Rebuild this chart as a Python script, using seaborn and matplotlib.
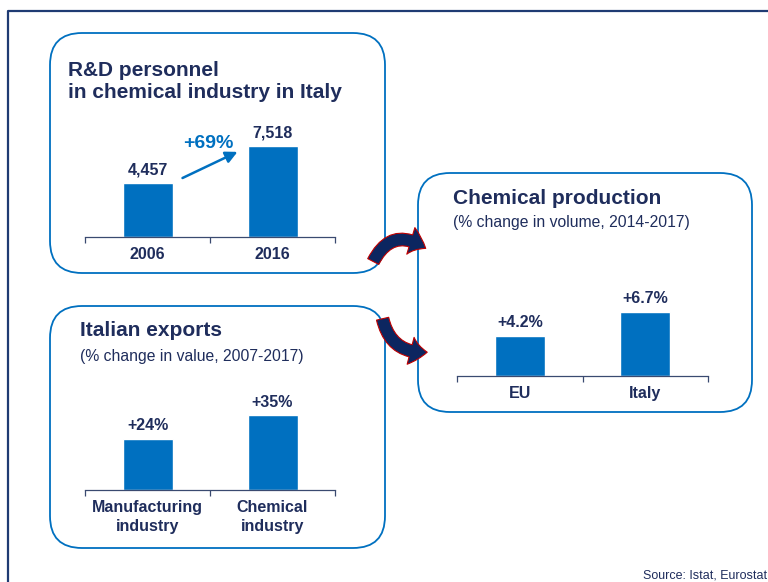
import matplotlib
matplotlib.use("Agg")
import matplotlib.pyplot as plt
import matplotlib.transforms as mtransforms
from matplotlib.patches import FancyBboxPatch, FancyArrowPatch
from matplotlib.lines import Line2D
import seaborn as sns

# data
rd_years = ["2006", "2016"]
rd_people = [4457, 7518]
rd_labels = ["4,457", "7,518"]

prod_areas = ["EU", "Italy"]
prod_change = [4.2, 6.7]
prod_labels = ["+4.2%", "+6.7%"]

exp_sectors = ["Manufacturing\nindustry", "Chemical\nindustry"]
exp_change = [24, 35]
exp_labels = ["+24%", "+35%"]

BLUE = "#0070C0"
NAVY = "#1F2D5C"
FRAME = "#1F3B73"
AXIS = "#3A4A70"

sns.set_style("white")
plt.rcParams["font.family"] = ["Liberation Sans", "DejaVu Sans"]

W, H = 768, 582
fig = plt.figure(figsize=(W / 100, H / 100), dpi=100)
# pixel coords, origin top-left
px = mtransforms.Affine2D().scale(1 / W, -1 / H).translate(0, 1) + fig.transFigure


def panel_box(x0, y0, x1, y1):
    box = FancyBboxPatch((x0, y0), x1 - x0, y1 - y0,
                         boxstyle="round,pad=0,rounding_size=32",
                         transform=px, facecolor="none", edgecolor=BLUE, lw=1.3)
    fig.patches.append(box)


def bar_axes(left, right, base, height, cats, vals, labels, top):
    ax = fig.add_axes([left / W, (H - base) / H, (right - left) / W, height / H])
    ax.patch.set_alpha(0)
    sns.barplot(x=cats, y=vals, color=BLUE, saturation=1, width=0.4, ax=ax)
    ax.set_xlim(-0.5, 1.5)
    ax.set_ylim(0, top)
    ax.set_yticks([])
    ax.set(xlabel="", ylabel="")
    sns.despine(ax=ax, left=True)
    ax.spines["bottom"].set_color(AXIS)
    ax.spines["bottom"].set_linewidth(0.9)
    ax.set_xticks([-0.5, 0.5, 1.5], minor=True)
    ax.tick_params(axis="x", which="minor", bottom=True, length=4, width=0.9,
                   color=AXIS, direction="out")
    ax.tick_params(axis="x", which="major", bottom=True, length=0, pad=7)
    for t in ax.get_xticklabels():
        t.set_fontweight("bold")
        t.set_fontsize(11.5)
        t.set_color(NAVY)
        t.set_linespacing(1.35)
    ax.bar_label(ax.containers[0], labels=labels, padding=4, fontsize=11.5,
                 fontweight="bold", color=NAVY)
    return ax


# outer frame
fig.lines.append(Line2D([8, 8, 770], [590, 11, 11], transform=px, color=FRAME, lw=1.6))

panel_box(50, 33, 385, 273)
panel_box(50, 306, 385, 548)
panel_box(418, 173, 752, 412)

# R&D personnel
fig.text(68, 70, "R&D personnel", transform=px, fontsize=15, fontweight="bold",
         color=NAVY, va="center")
fig.text(68, 93, "in chemical industry in Italy", transform=px, fontsize=15,
         fontweight="bold", color=NAVY, va="center")
ax1 = bar_axes(85, 335, 237, 109, rd_years, rd_people, rd_labels, 9000)
ax1.annotate("", xy=(0.72, 7030), xytext=(0.28, 4870),
             arrowprops=dict(arrowstyle="-|>,head_length=0.7,head_width=0.35",
                             color=BLUE, lw=1.8, shrinkA=0, shrinkB=0),
             annotation_clip=False)
ax1.text(0.485, 7690, "+69%", ha="center", va="center", fontsize=14,
         fontweight="bold", color=BLUE)

# Chemical production
fig.text(453, 198, "Chemical production", transform=px, fontsize=15,
         fontweight="bold", color=NAVY, va="center")
fig.text(453, 222, "(% change in volume, 2014-2017)", transform=px, fontsize=11.3,
         color=NAVY, va="center")
bar_axes(457, 708, 376, 86, prod_areas, prod_change, prod_labels, 9)

# Italian exports
fig.text(80, 330, "Italian exports", transform=px, fontsize=15,
         fontweight="bold", color=NAVY, va="center")
fig.text(80, 356, "(% change in value, 2007-2017)", transform=px, fontsize=11.3,
         color=NAVY, va="center")
bar_axes(85, 335, 490, 96, exp_sectors, exp_change, exp_labels, 45)

# curved arrows towards the production panel
for a, b, rad in [((372, 264), (428, 250), -0.6), ((382, 316), (430, 352), 0.45)]:
    arr = FancyArrowPatch(a, b, transform=px, connectionstyle=f"arc3,rad={rad}",
                          arrowstyle="simple,head_length=12,head_width=20,tail_width=9",
                          mutation_scale=1, facecolor="#0C2660", edgecolor="#C00000",
                          lw=0.8, zorder=5)
    fig.patches.append(arr)

fig.text(643, 575, "Source: Istat, Eurostat", transform=px, fontsize=9,
         color=NAVY, va="center")

fig.savefig("out.png", dpi=100)
